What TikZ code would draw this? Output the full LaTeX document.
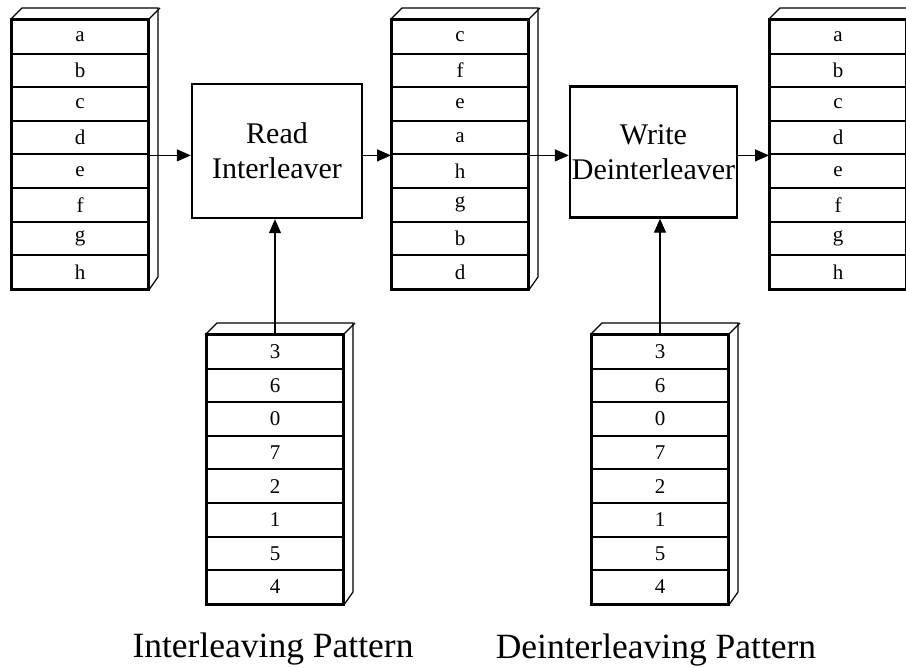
\documentclass[tikz,border=0pt]{standalone}
\usepackage{fontspec}
\setmainfont{Liberation Serif}
\usetikzlibrary{arrows.meta}

\tikzset{
  cell/.style={draw, line width=2pt, minimum width=136pt, minimum height=33.6pt, inner sep=0pt, font=\fontsize{21}{24}\selectfont},
  proc/.style={draw, line width=2.4pt, align=center, inner sep=0pt, font=\fontsize{30}{35}\selectfont},
  patlabel/.style={font=\fontsize{35.5}{40}\selectfont, anchor=base},
  link/.style={->, line width=1.2pt}
}

\begin{document}
\begin{tikzpicture}[x=1pt,y=-1pt,>={Triangle[length=14pt,width=12pt]}]
\useasboundingbox (0,0) rectangle (906,668);

% the memory stacks: left edge / top edge / name / contents
\foreach \sx/\sy/\nm/\lst in {12/20/inp/{a,b,c,d,e,f,g,h},392/20/mid/{c,f,e,a,h,g,b,d},770/20/out/{a,b,c,d,e,f,g,h},207/335/ipat/{3,6,0,7,2,1,5,4},592/335/dpat/{3,6,0,7,2,1,5,4}}
{
  \foreach \t [count=\i] in \lst
    \node[cell] (\nm-\i) at (\sx+68,\sy+\i*33.6-16.8) {\t};
  % depth of the box
  \draw[line width=1.2pt] (\nm-1.north west) -- ++(11,-11) -- ++(136,0) -- ++(0,269) -- (\nm-8.south east);
  \draw[line width=1.2pt] (\nm-1.north east) -- ++(11,-11);
  \draw[line width=2.6pt] (\nm-1.north west) rectangle (\nm-8.south east);
}

\node[proc, minimum width=170pt, minimum height=134pt] (rd) at (277,151) {Read\\Interleaver};
\node[proc, minimum width=167pt, minimum height=131pt] (wr) at (653.5,152) {Write\\Deinterleaver};

\draw[link] (inp-4.south east) -- (rd.west |- inp-4.south east);
\draw[link] (rd.east |- mid-4.south west) -- (mid-4.south west);
\draw[link] (mid-4.south east) -- (wr.west |- mid-4.south east);
\draw[link] (wr.east |- out-4.south west) -- (out-4.south west);

\draw[link] (ipat-1.north) -- (ipat-1.north |- rd.south);
\draw[link] (dpat-1.north) -- (dpat-1.north |- wr.south);

\node[patlabel] (ilab) at (273,657) {Interleaving Pattern};
\node[patlabel] (dlab) at (656,658) {Deinterleaving Pattern};

\end{tikzpicture}
\end{document}
